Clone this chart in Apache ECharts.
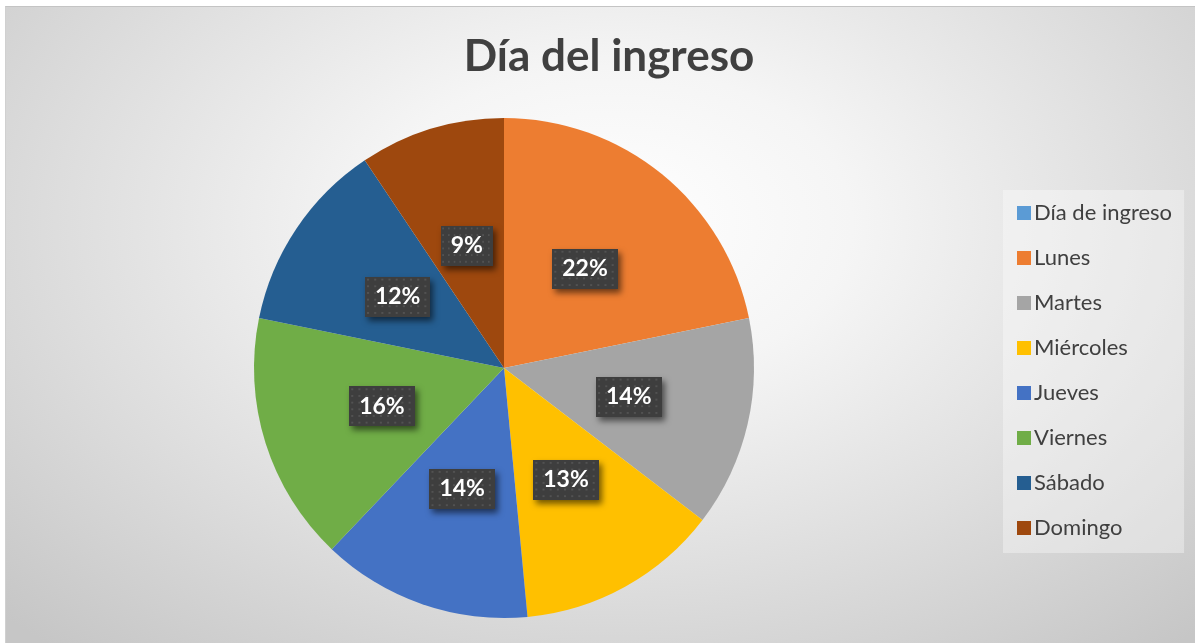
<!DOCTYPE html>
<html>
<head>
<meta charset="utf-8">
<script src="https://cdn.jsdelivr.net/npm/echarts@6/dist/echarts.min.js"></script>
<style>
html,body{margin:0;padding:0;background:#ffffff;}
#bg{position:absolute;left:5px;top:6px;width:1190px;height:637px;
 background:radial-gradient(ellipse 72% 88% at 51% 34%, #ffffff 0%, #f5f5f5 28%, #dddddd 65%, #c6c6c6 100%);
 border-top:1px solid #c4c4c4;border-left:1px solid #d0d0d0;box-sizing:border-box;}
#chart{position:absolute;left:0;top:0;width:1195px;height:643px;}
</style>
</head>
<body>
<div id="bg"></div>
<div id="chart"></div>
<script>
// Data
var titleText = 'Día del ingreso';
var categories = ['Día de ingreso', 'Lunes', 'Martes', 'Miércoles', 'Jueves', 'Viernes', 'Sábado', 'Domingo'];
var values = [0, 21.8, 13.6, 13.1, 13.6, 16.1, 12.4, 9.4];
var colors = ['#5B9BD5', '#ED7D31', '#A5A5A5', '#FFC000', '#4472C4', '#70AD47', '#255E91', '#9E480E'];

// dotted label background pattern
function makePattern(w, h) {
  var c = document.createElement('canvas');
  c.width = w; c.height = h;
  var ctx = c.getContext('2d');
  ctx.fillStyle = '#3e3e3e';
  ctx.fillRect(0, 0, w, h);
  ctx.fillStyle = '#525252';
  for (var y = 2; y < h; y += 7) {
    for (var x = 2; x < w; x += 7) {
      ctx.fillRect(x, y, 2, 2);
    }
  }
  return c;
}
var pattern = makePattern(64, 42);

var chart = echarts.init(document.getElementById('chart'), null, {renderer: 'canvas'});

var seriesData = categories.map(function (name, i) {
  var item = {name: name, value: values[i], itemStyle: {color: colors[i]}};
  if (values[i] === 0) {
    item.label = {show: false};
    item.labelLine = {show: false};
  }
  return item;
});

chart.setOption({
  backgroundColor: 'transparent',
  animation: false,
  title: {
    text: titleText,
    left: 604,
    textAlign: 'center',
    top: 30,
    textStyle: {fontFamily: 'Lato', fontWeight: 'bold', fontSize: 44, color: '#404040'}
  },
  legend: {
    orient: 'vertical',
    left: 1003,
    top: 190,
    padding: [12, 12, 14, 14],
    backgroundColor: 'rgba(255,255,255,0.35)',
    itemWidth: 14,
    itemHeight: 14,
    itemGap: 23,
    icon: 'rect',
    data: categories,
    selectedMode: false,
    textStyle: {fontFamily: 'Lato', fontSize: 22, color: '#404040', lineHeight: 22, padding: [0, 0, 0, -2]}
  },
  series: [{
    type: 'pie',
    center: [504, 368],
    radius: [0, 250],
    startAngle: 90,
    clockwise: true,
    avoidLabelOverlap: false,
    data: seriesData,
    itemStyle: {borderWidth: 0},
    emphasis: {disabled: true},
    label: {
      show: true,
      position: 'inside',
      formatter: function (p) { return Math.round(p.percent) + '%'; },
      fontFamily: 'Lato',
      fontWeight: 'bold',
      fontSize: 23,
      color: '#ffffff',
      backgroundColor: {image: pattern},
      padding: [9, 10, 8, 10],
      shadowColor: 'rgba(0,0,0,0.55)',
      shadowBlur: 6,
      shadowOffsetX: 3,
      shadowOffsetY: 4
    },
    labelLine: {show: false}
  }]
});
</script>
</body>
</html>
